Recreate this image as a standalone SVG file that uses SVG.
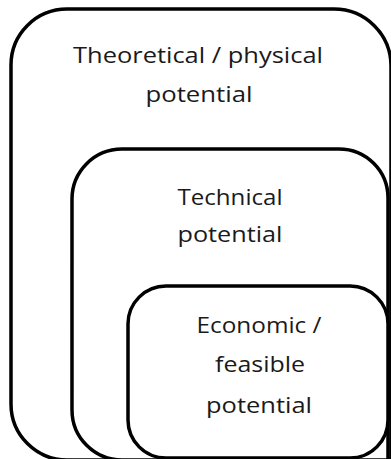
<svg xmlns="http://www.w3.org/2000/svg" width="391" height="459" viewBox="0 0 391 459">
<style>
.box{fill:#fff;stroke:#000;stroke-width:3.5}
.lbl{font-family:"Open Sans","Noto Sans",sans-serif;font-size:22px;fill:#1a1a1a;text-anchor:middle}
</style>
<rect x="0" y="0" width="391" height="459" fill="#fff"/>
<g id="theoretical">
<path class="box" d="M393,460 L67,460 A56,56 0 0 1 11,404 L11,65 A56,56 0 0 1 67,9 L334,9 A57,57 0 0 1 391,66 L391,460"/>
<text class="lbl" x="198" y="63" textLength="250" lengthAdjust="spacingAndGlyphs">Theoretical / physical</text>
<text class="lbl" x="199" y="102" textLength="107" lengthAdjust="spacingAndGlyphs">potential</text>
</g>
<g id="technical">
<path class="box" d="M389,460 L122,460 A50,50 0 0 1 72,410 L72,199 A50,50 0 0 1 122,149 L339,149 A49,49 0 0 1 388,198 L388,460"/>
<text class="lbl" x="230" y="205" textLength="105" lengthAdjust="spacingAndGlyphs">Technical</text>
<text class="lbl" x="230" y="242" textLength="105" lengthAdjust="spacingAndGlyphs">potential</text>
</g>
<g id="economic">
<path class="box" d="M388,420 A38,38 0 0 1 350,458 L166,458 A38,38 0 0 1 128,420 L128,324 A38,38 0 0 1 166,286 L350,286 A38,38 0 0 1 388,324 Z"/>
<text class="lbl" x="259" y="333" textLength="125" lengthAdjust="spacingAndGlyphs">Economic /</text>
<text class="lbl" x="260" y="372" textLength="90" lengthAdjust="spacingAndGlyphs">feasible</text>
<text class="lbl" x="259" y="413" textLength="106" lengthAdjust="spacingAndGlyphs">potential</text>
</g>
<g id="connectors"></g>
</svg>
